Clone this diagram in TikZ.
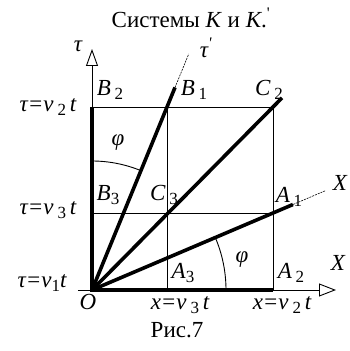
\documentclass[tikz,border=0pt]{standalone}
\usepackage{fontspec}
\setmainfont{Liberation Serif}
\usetikzlibrary{arrows.meta,calc,positioning}
\newcommand{\lowix}[1]{\raisebox{-0.45ex}{\upshape\fontsize{17pt}{17pt}\selectfont #1}}

\begin{document}
\begin{tikzpicture}[x=1pt, y=1pt,
  gridln/.style={line width=0.9pt},
  heavy/.style={line width=3.6pt},
  faint/.style={line width=0.6pt, dash pattern=on 2pt off 1pt},
  lbl/.style={font=\fontsize{23pt}{25pt}\selectfont\itshape, inner sep=0pt},
  txt/.style={font=\fontsize{23pt}{25pt}\selectfont, inner sep=0pt}]
  \useasboundingbox (-92,-61) rectangle (258,290);
  % grid points of the two systems
  \coordinate (O)  at (0,0);
  \coordinate (a3) at (75,0);
  \coordinate (a2) at (181,0);
  \coordinate (b3) at (0,77);
  \coordinate (b2) at (0,183);
  \coordinate (c3) at (75,77);
  \coordinate (c2) at (181,183);
  \coordinate (b1) at (75,183);
  \coordinate (a1) at (181,77);
  % axes of K
  \coordinate (tautip) at (0,241);
  \coordinate (xtip)   at (244,0);
  \coordinate (xstart) at (-14,0);
  \draw[gridln, -{Triangle[open,length=17pt,width=12pt]}] (O) -- (tautip);
  \draw[gridln, -{Triangle[open,length=17pt,width=13pt]}] (xstart) -- (xtip);
  % grid
  \foreach \p/\q in {a3/b1, a2/c2, b3/a1, b2/c2}
    \draw[gridln] (\p) -- (\q);
  % heavy axes and world lines
  \coordinate (tauend) at ($(O)!1.107!(b1)$);
  \coordinate (xend)   at ($(O)!1.11!(a1)$);
  \coordinate (cend)   at ($(O)!1.05!(c2)$);
  \coordinate (taufar) at ($(O)!1.29!(b1)$);
  \coordinate (xfar)   at ($(O)!1.29!(a1)$);
  \draw[heavy] (b2) -- (O) -- (a2);
  \draw[heavy] (O) -- (tauend);
  \draw[heavy] (O) -- (xend);
  \draw[heavy] (O) -- (cend);
  \draw[faint] (tauend) -- (taufar);
  \draw[faint] (xend) -- (xfar);
  % angles phi
  \draw[gridln] (0,129) arc (90:67.7:129);
  \draw[gridln] (134,0) arc (0:23:134);
  % labels
  \node[txt]  (title) at (99,272) {Системы \textit{K} и \textit{K}.\textsuperscript{\textquotesingle}};
  \node[lbl]  (tau)   at (-14,244) {τ};
  \node[lbl]  (taup)  at (114,242) {τ\textsuperscript{\textquotesingle}};
  \node[lbl]  (lb2)   at (18,200)  {B\,\lowix{2}};
  \node[lbl]  (lb1)   at (102,200) {B\,\lowix{1}};
  \node[lbl]  (lc2)   at (177,200) {C\,\lowix{2}};
  \node[lbl]  (phit)  at (26,147)  {φ};
  \node[lbl]  (lb3)   at (16,95)   {B\lowix{3}};
  \node[lbl]  (lc3)   at (72,95)   {C\,\lowix{3}};
  \node[lbl]  (la1)   at (197,93)  {A\,\lowix{1}};
  \node[lbl]  (xp)    at (248,107) {X};
  \node[lbl]  (la3)   at (91,17)   {A\lowix{3}};
  \node[lbl]  (phib)  at (150,30)  {φ};
  \node[lbl]  (la2)   at (199,17)  {A\,\lowix{2}};
  \node[lbl]  (xax)   at (246,27)  {X};
  \node[lbl]  (t1)    at (-50,7)   {τ=v\lowix{1}t};
  \node[lbl]  (t2)    at (-44,183) {τ=v\,\lowix{2}\,t};
  \node[lbl]  (t3)    at (-44,80)  {τ=v\,\lowix{3}\,t};
  \node[lbl]  (lo)    at (-4,-12)  {O};
  \node[lbl]  (x3)    at (88,-15)  {x=v\,\lowix{3}\,t};
  \node[lbl]  (x2)    at (190,-15) {x=v\,\lowix{2}\,t};
  \node[txt]  (fig)   at (85,-40)  {Рис.7};
\end{tikzpicture}
\end{document}
